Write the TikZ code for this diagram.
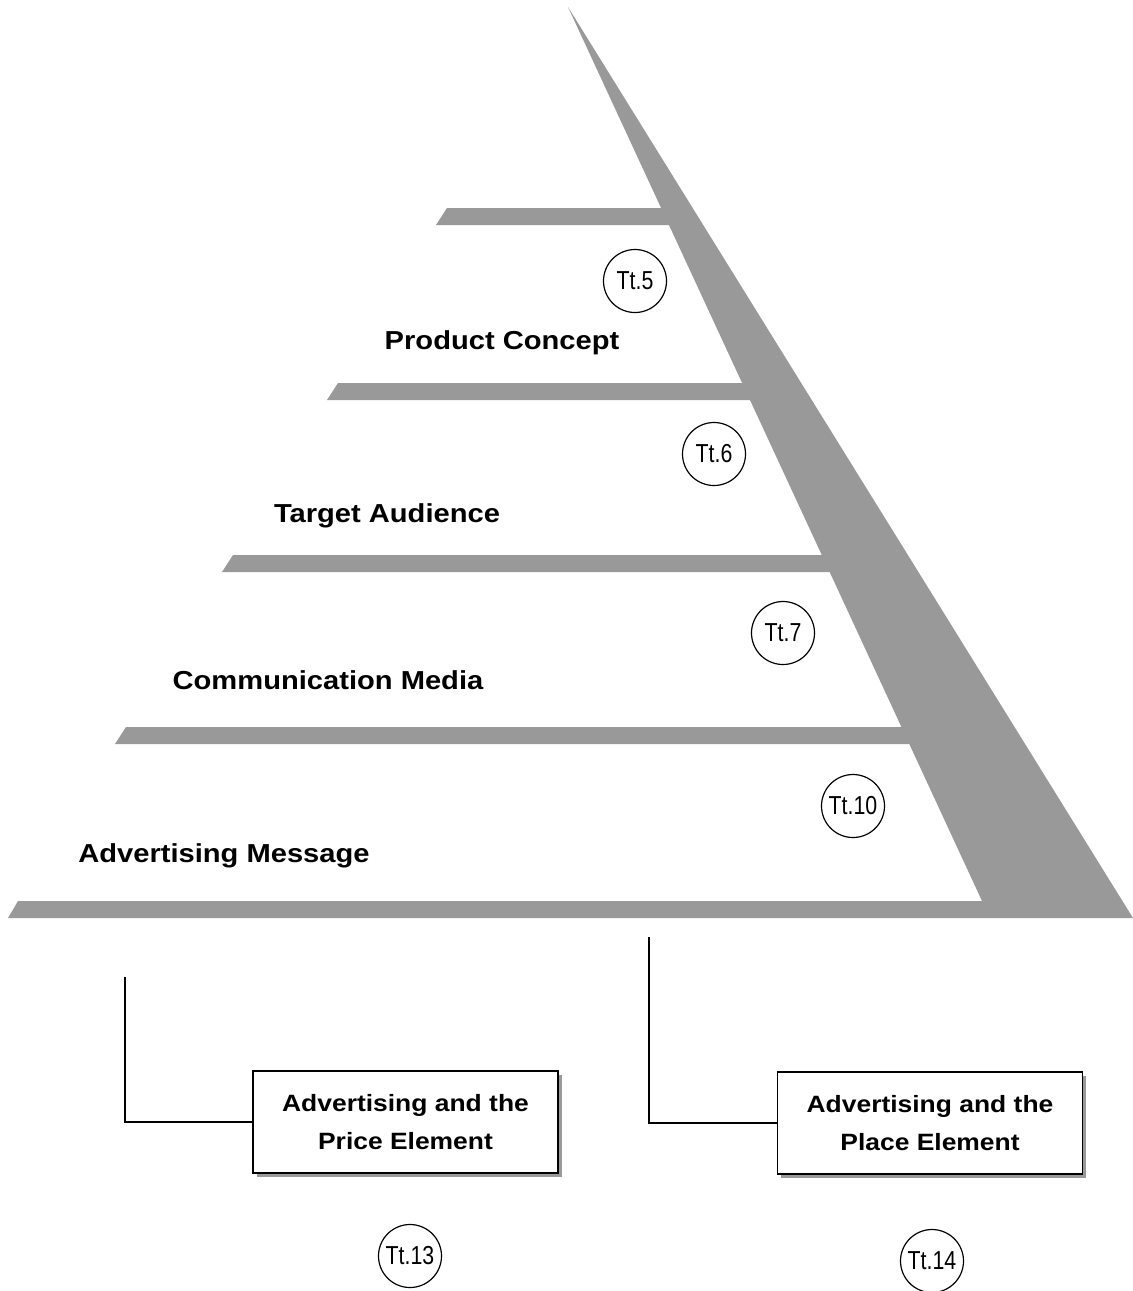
\documentclass[tikz,border=0pt]{standalone}
\usepackage{fontspec}
\setmainfont{Liberation Sans}
\newfontfamily\headfont[FakeStretch=1.12]{Liberation Sans}
\newfontfamily\tagfont[FakeStretch=0.82]{Liberation Sans}
\usetikzlibrary{shadows}
\definecolor{shelfgray}{RGB}{153,153,153}

\begin{document}
\begin{tikzpicture}[x=0.5pt,y=-0.5pt,
  shelf/.style={fill=shelfgray},
  level/.style={anchor=base,font=\headfont\bfseries\fontsize{13pt}{15pt}\selectfont},
  tag/.style={draw,circle,line width=0.6pt,minimum size=31.5pt,inner sep=0pt,font=\tagfont\fontsize{13pt}{15pt}\selectfont},
  mixbox/.style={draw,line width=0.7pt,fill=white,minimum width=152.5pt,minimum height=51pt,align=center,
    font=\headfont\bfseries\fontsize{11.8pt}{18.8pt}\selectfont,
    drop shadow={shadow xshift=1.8pt,shadow yshift=-1.8pt,fill=shelfgray,opacity=1}},
  link/.style={line width=0.75pt}]
\useasboundingbox (0,0) rectangle (1133,1291);
\fill[shelf] (568,7) -- (1133,918) -- (8,918) -- (18,901) -- (982,901) -- cycle;
\foreach \yt/\xl in {208/447,383/338,555/233,727/126}
    \fill[shelf] (\xl,\yt) -- (\xl-11,\yt+17) -- ({568+0.463*(\yt+10)+8},\yt+17) -- ({568+0.463*(\yt-7)+8},\yt) -- cycle;
\node[level] (concept) at (502,349) {Product Concept};
\node[level] (audience) at (387,522) {Target Audience};
\node[level] (media) at (328,689) {Communication Media};
\node[level] (message) at (224,862) {Advertising Message};
\node[tag] (tt5) at (635,281) {Tt.5};
\node[tag] (tt6) at (714,454) {Tt.6};
\node[tag] (tt7) at (783,633) {Tt.7};
\node[tag] (tt10) at (853,806) {Tt.10};
\node[mixbox] (price) at (405.5,1122) {Advertising and the\\Price Element};
\node[mixbox] (place) at (930,1123) {Advertising and the\\Place Element};
\coordinate (pricetop) at (125,977);
\coordinate (placetop) at (649,937);
\draw[link] (pricetop) |- (price.west);
\draw[link] (placetop) |- (place.west);
\node[tag] (tt13) at (410,1256) {Tt.13};
\node[tag] (tt14) at (932,1261) {Tt.14};
\end{tikzpicture}
\end{document}
